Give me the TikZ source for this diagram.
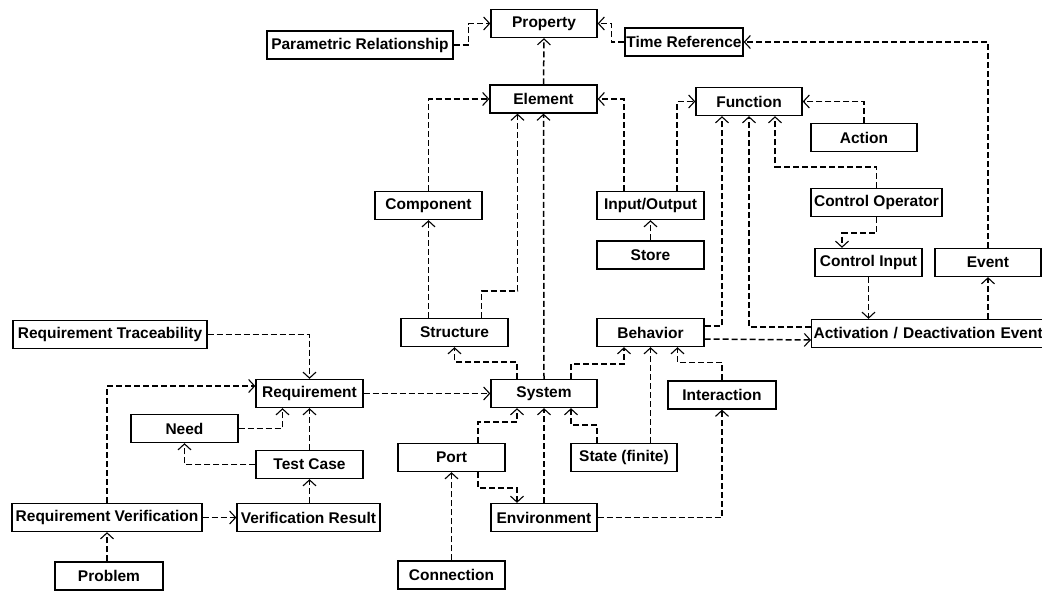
\documentclass[tikz,border=0pt]{standalone}
\usepackage{fontspec}
\setmainfont{Liberation Sans}
\usepackage{tikz}
\usetikzlibrary{arrows.meta,positioning,calc}

\begin{document}
\begin{tikzpicture}[
x=1pt,y=-1pt,
box/.style={draw=black,line width=1.3pt,fill=white,align=center,inner sep=1pt,minimum width=107pt,minimum height=28pt,font=\fontsize{15.5}{17}\selectfont\bfseries},
arr/.style={-{Straight Barb[length=6pt,width=13pt,line width=1.1pt]},line width=1.5pt,dash pattern=on 6pt off 3pt}
]
\useasboundingbox (0,0) rectangle (1042,590);
\node[box,minimum width=106pt] (prop) at (544,23.5) {Property};
\node[box,minimum width=186pt] (param) at (360,45) {Parametric Relationship};
\node[box,minimum width=118pt] (timeref) at (684,42) {Time Reference};
\node[box] (elem) at (543.5,99) {Element};
\node[box,minimum width=106pt] (func) at (749,101.5) {Function};
\node[box,minimum width=106pt] (action) at (864,137.5) {Action};
\node[box] (comp) at (428.5,205.5) {Component};
\node[box] (io) at (650.5,205.5) {Input/Output};
\node[box] (store) at (650.5,255) {Store};
\node[box,minimum width=131pt] (ctrlop) at (876.5,202.5) {Control Operator};
\node[box] (ctrlin) at (868.5,262.5) {Control Input};
\node[box,minimum width=106pt] (event) at (988,262.5) {Event};
\node[box,anchor=west,align=left,minimum width=240pt,text width=236pt] (activ) at (811,333.5) {Activation / Deactivation Event};
\node[box] (struct) at (454.5,332.5) {Structure};
\node[box] (behav) at (650.5,332.5) {Behavior};
\node[box,minimum width=194pt] (reqtrace) at (110,334.5) {Requirement Traceability};
\node[box] (req) at (309.5,393.5) {Requirement};
\node[box] (need) at (184.5,428.5) {Need};
\node[box] (testcase) at (309.5,464.5) {Test Case};
\node[box,minimum width=190pt] (reqverif) at (107,517.5) {Requirement Verification};
\node[box,minimum width=143pt] (verifres) at (308.5,517.5) {Verification Result};
\node[box,minimum width=108pt] (problem) at (109,576) {Problem};
\node[box,minimum width=106pt] (sys) at (544,393.5) {System};
\node[box,minimum width=108pt] (inter) at (722,395) {Interaction};
\node[box] (port) at (451.5,457.5) {Port};
\node[box,minimum width=106pt] (state) at (624,457.5) {State (finite)};
\node[box,minimum width=106pt] (env) at (544,517.5) {Environment};
\node[box] (conn) at (451.5,575) {Connection};

\draw[arr] (param.east)--++(15,0)|-(prop.west);
\draw[arr] (timeref.west)--++(-13,0)|-(prop.east);
\draw[arr] (event.north)|-(timeref.east);
\draw[arr] (elem.north)--(prop.south);
\draw[arr] (comp.north)|-(elem.west);
\draw[arr] (struct.north-|comp.south)--(comp.south);
\draw[arr] ([xshift=27pt]struct.north)--++(0,-27)-|([xshift=-26pt]elem.south);
\draw[arr] (sys.north)--(elem.south);
\draw[arr] ([xshift=-26.5pt]io.north)|-(elem.east);
\draw[arr] ([xshift=26.5pt]io.north)|-(func.west);
\draw[arr] (store.north)--(io.south);
\draw[arr] (action.north)|-(func.east);
\draw[arr] (ctrlop.north)--++(0,-21)-|([xshift=26pt]func.south);
\draw[arr] (ctrlop.south)--++(0,16)-|([xshift=-26.5pt]ctrlin.north);
\draw[arr] (ctrlin.south)--(activ.north-|ctrlin.south);
\draw[arr] (activ.north-|event.south)--(event.south);
\draw[arr] ([yshift=6.5pt]activ.west)-|(func.south);
\draw[arr] ([yshift=6.5pt]behav.east)-|([xshift=-27pt]func.south);
\draw[arr] ([yshift=-6.5pt]behav.east)--([yshift=-6.5pt]activ.west);
\draw[arr] ([xshift=27pt]sys.north)--++(0,-15)-|([xshift=-26.5pt]behav.south);
\draw[arr] (behav.south|-state.north)--(behav.south);
\draw[arr] (inter.north)--++(0,-18)-|([xshift=27pt]behav.south);
\draw[arr] ([xshift=-27pt]sys.north)--++(0,-17)-|(struct.south);
\draw[arr] (req.east)--(sys.west);
\draw[arr] (reqtrace.east)-|(req.north);
\draw[arr] (reqverif.north)|-([yshift=7.5pt]req.west);
\draw[arr] (need.east)-|([xshift=-27pt]req.south);
\draw[arr] (testcase.north)--(req.south);
\draw[arr] (testcase.west)-|(need.south);
\draw[arr] (verifres.north-|testcase.south)--(testcase.south);
\draw[arr] (reqverif.east)--(verifres.west);
\draw[arr] (reqverif.south|-problem.north)--(reqverif.south);
\draw[arr] ([xshift=26.5pt]port.north)--++(0,-21)-|([xshift=-27pt]sys.south);
\draw[arr] (env.north)--(sys.south);
\draw[arr] ([xshift=-27pt]state.north)--++(0,-18)-|([xshift=27pt]sys.south);
\draw[arr] ([xshift=26.5pt]port.south)--++(0,16)-|([xshift=-27pt]env.north);
\draw[arr] (conn.north)--(port.south);
\draw[arr] (env.east)-|(inter.south);
\end{tikzpicture}
\end{document}
